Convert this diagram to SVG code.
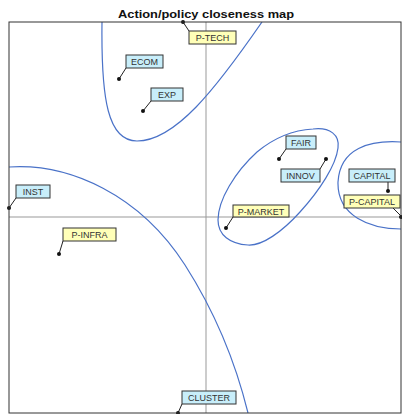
<svg xmlns="http://www.w3.org/2000/svg" width="402" height="414" viewBox="0 0 402 414">
<style>
.title{font-family:"Liberation Sans",Arial,sans-serif;font-size:11px;font-weight:bold;fill:#111}
.lbl{font-family:"Liberation Sans",Arial,sans-serif;font-size:9px;fill:#333;text-anchor:middle}
.b{fill:#c8eefa;stroke:#333;stroke-width:1}
.y{fill:#ffffb8;stroke:#333;stroke-width:1}
.ld{stroke:#222;stroke-width:1;fill:none}
.dot{fill:#111}
.cv{fill:none;stroke:#4a72c8;stroke-width:1.2}
.ax{stroke:#999;stroke-width:1}
</style>
<defs>
<clipPath id="frame"><rect x="9" y="22" width="392" height="391"/></clipPath>
</defs>
<rect x="0" y="0" width="402" height="414" fill="#fff"/>
<text class="title" x="206" y="18" text-anchor="middle" textLength="176" lengthAdjust="spacingAndGlyphs">Action/policy closeness map</text>
<g id="axes">
<line class="ax" x1="206" y1="22" x2="206" y2="413"/>
<line class="ax" x1="9" y1="217" x2="401" y2="217"/>
</g>
<g id="clusters" clip-path="url(#frame)">
<path class="cv" d="M102,22 C101,100 108,141 137,141 C175,141 215,90 262,22"/>
<path class="cv" d="M313,129 C330,127 340,135 338,148 C336,165 320,190 300,212 C282,232 262,246 248,245 C230,244 218,235 218,220 C218,200 235,172 257,152 C275,137 295,130 313,129 Z"/>
<path class="cv" d="M401,142 C370,140 340,148 338,182 C337,216 370,229 401,229"/>
<path class="cv" d="M9,167 C70,163 140,195 185,265 C215,312 235,360 248,413"/>
</g>
<g id="connectors">
<line class="ld" x1="183" y1="22" x2="189" y2="31"/>
<line class="ld" x1="119" y1="79" x2="126" y2="68"/>
<line class="ld" x1="143" y1="111" x2="151" y2="101"/>
<line class="ld" x1="279" y1="159" x2="286" y2="149"/>
<line class="ld" x1="326" y1="159" x2="320" y2="169"/>
<line class="ld" x1="388" y1="182" x2="388" y2="191"/>
<line class="ld" x1="393" y1="208" x2="401" y2="216"/>
<line class="ld" x1="226" y1="228" x2="233" y2="217"/>
<line class="ld" x1="9" y1="208" x2="16" y2="198"/>
<line class="ld" x1="59" y1="254" x2="63" y2="241"/>
<line class="ld" x1="178" y1="413" x2="182" y2="404"/>
</g>
<g id="P-TECH"><circle class="dot" cx="183" cy="22" r="2"/><rect class="y" x="189" y="31" width="47" height="13"/><text class="lbl" x="212.5" y="41">P-TECH</text></g>
<g id="ECOM"><circle class="dot" cx="119" cy="79" r="2"/><rect class="b" x="126" y="55" width="37" height="13"/><text class="lbl" x="144.5" y="65">ECOM</text></g>
<g id="EXP"><circle class="dot" cx="143" cy="111" r="2"/><rect class="b" x="151" y="88" width="32" height="13"/><text class="lbl" x="167" y="98">EXP</text></g>
<g id="FAIR"><circle class="dot" cx="279" cy="159" r="2"/><rect class="b" x="286" y="136" width="30" height="13"/><text class="lbl" x="301" y="146">FAIR</text></g>
<g id="INNOV"><circle class="dot" cx="326" cy="159" r="2"/><rect class="b" x="281" y="169" width="39" height="13"/><text class="lbl" x="300.5" y="179">INNOV</text></g>
<g id="CAPITAL"><circle class="dot" cx="388" cy="191" r="2"/><rect class="b" x="349" y="169" width="46" height="13"/><text class="lbl" x="372" y="179">CAPITAL</text></g>
<g id="P-CAPITAL"><circle class="dot" cx="401" cy="217" r="2"/><rect class="y" x="344" y="195" width="56" height="13"/><text class="lbl" x="372" y="205">P-CAPITAL</text></g>
<g id="P-MARKET"><circle class="dot" cx="226" cy="228" r="2"/><rect class="y" x="233" y="205" width="56" height="12"/><text class="lbl" x="261" y="215">P-MARKET</text></g>
<g id="INST"><circle class="dot" cx="9" cy="208" r="2"/><rect class="b" x="16" y="185" width="34" height="13"/><text class="lbl" x="33" y="195">INST</text></g>
<g id="P-INFRA"><circle class="dot" cx="59" cy="254" r="2"/><rect class="y" x="63" y="228" width="53" height="13"/><text class="lbl" x="89.5" y="238">P-INFRA</text></g>
<g id="CLUSTER"><circle class="dot" cx="178" cy="413" r="2"/><rect class="b" x="182" y="391" width="54" height="13"/><text class="lbl" x="209" y="401">CLUSTER</text></g>
<rect x="9" y="22" width="392" height="391" fill="none" stroke="#333" stroke-width="1"/>
</svg>
